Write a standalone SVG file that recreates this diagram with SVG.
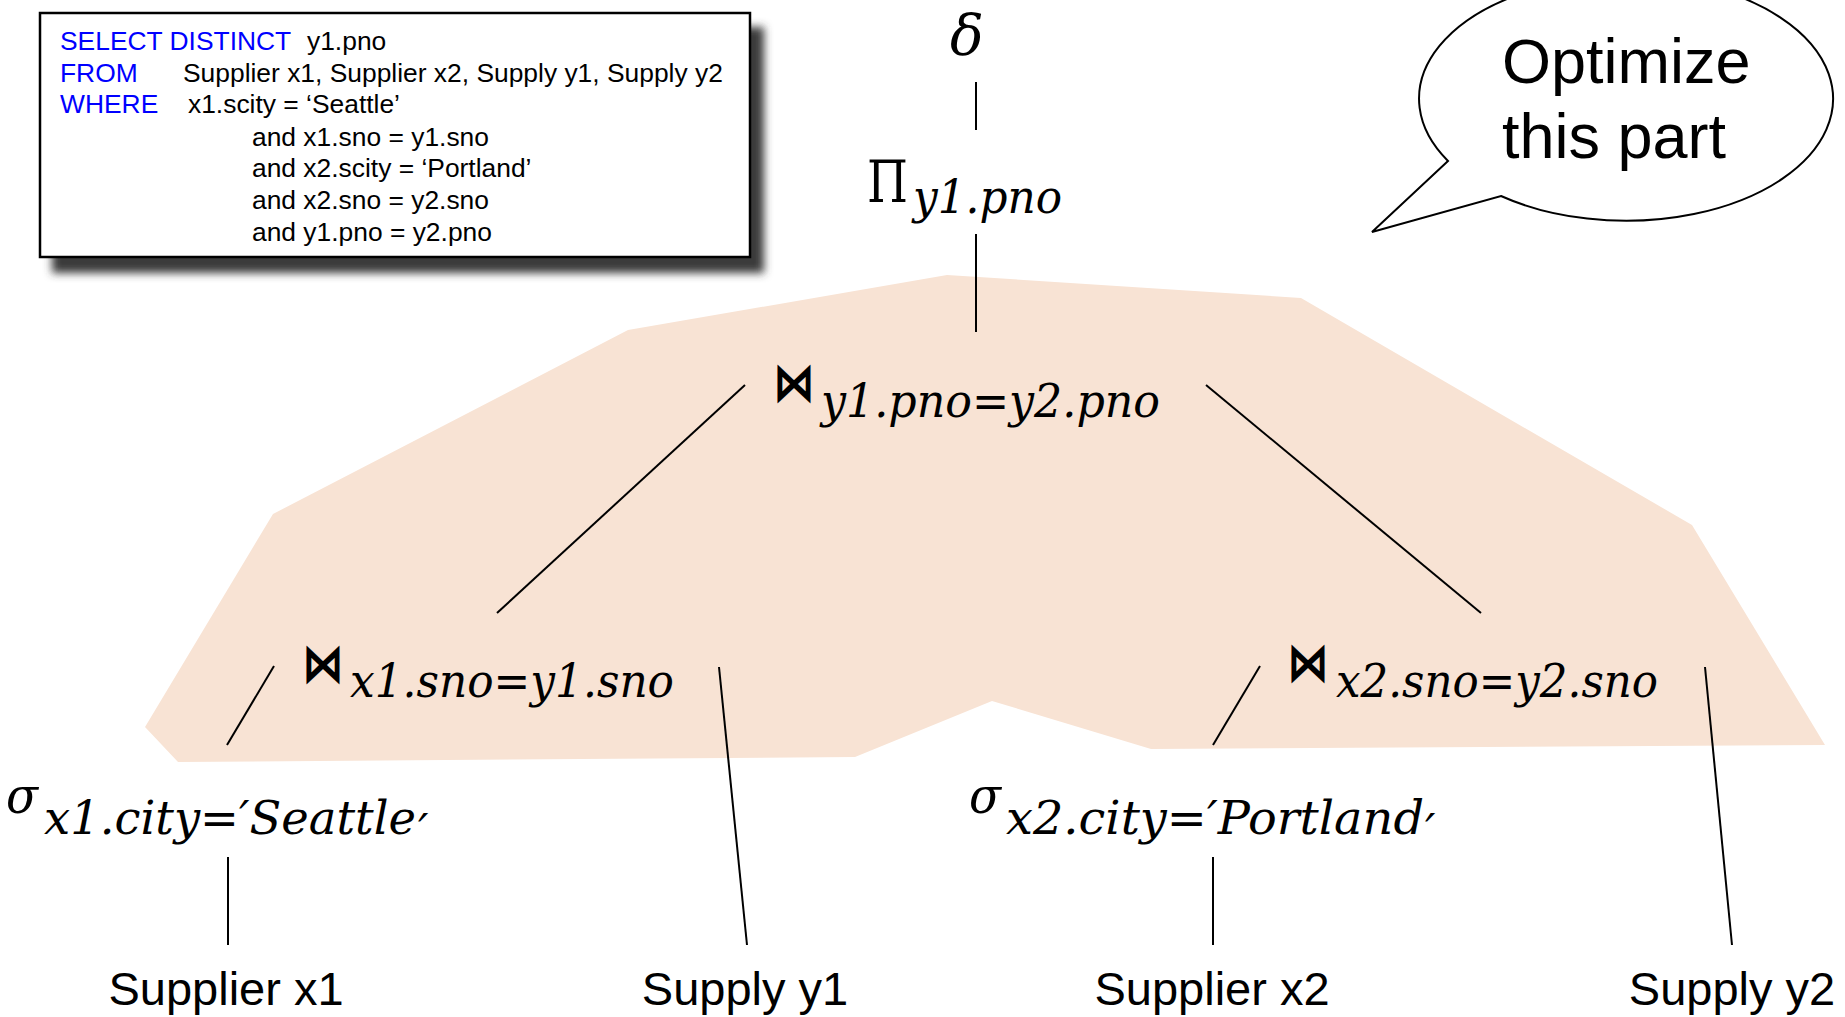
<svg xmlns="http://www.w3.org/2000/svg" width="1845" height="1017" viewBox="0 0 1845 1017">
<defs>
<filter id="shadow" x="-10%" y="-20%" width="130%" height="150%">
<feGaussianBlur stdDeviation="4"/>
</filter>
</defs>
<style>
.sql{font-family:"Liberation Sans",Arial,sans-serif;font-size:26.4px;fill:#000}
.kw{fill:#0000ff}
.math{font-family:"DejaVu Serif",serif;font-style:italic;font-size:46px;fill:#000}
.greek{font-family:"DejaVu Serif",serif;fill:#000}
.bowtie{font-family:"DejaVu Sans",sans-serif;font-weight:bold;font-size:54px;fill:#000}
.rel{font-family:"Liberation Sans",Arial,sans-serif;font-size:47px;fill:#000;text-anchor:middle}
.bubble{font-family:"Liberation Sans",Arial,sans-serif;font-size:63px;fill:#000}
.edge{stroke:#000;stroke-width:2;fill:none}
</style>
<rect width="1845" height="1017" fill="#fff"/>
<polygon id="region" points="947,275 1301,298 1692,525 1825,745 1151,749 992,701 855,757 178,762 145,727 273,514 628,330" fill="#f8e3d4"/>
<g id="sql-box">
<rect x="52" y="27" width="712" height="246" fill="#3a3a3a" filter="url(#shadow)"/>
<rect x="40" y="13" width="710" height="244" fill="#fff" stroke="#000" stroke-width="2.5"/>
<text class="sql kw" x="60" y="50">SELECT DISTINCT</text>
<text class="sql" x="307" y="50">y1.pno</text>
<text class="sql kw" x="60" y="82">FROM</text>
<text class="sql" x="183" y="82">Supplier x1, Supplier x2, Supply y1, Supply y2</text>
<text class="sql kw" x="60" y="113">WHERE</text>
<text class="sql" x="188" y="113">x1.scity = ‘Seattle’</text>
<text class="sql" x="252" y="146">and x1.sno = y1.sno</text>
<text class="sql" x="252" y="177">and x2.scity = ‘Portland’</text>
<text class="sql" x="252" y="209">and x2.sno = y2.sno</text>
<text class="sql" x="252" y="241">and y1.pno = y2.pno</text>
</g>
<g id="callout">
<path d="M1448,161 L1372,232 L1501,196 A207,122 0 1 0 1448,161 Z" fill="#fff" stroke="#000" stroke-width="2"/>
<text class="bubble" x="1502" y="83">Optimize</text>
<text class="bubble" x="1502" y="158">this part</text>
</g>
<g id="connectors">
<line class="edge" x1="976" y1="82" x2="976" y2="130"/>
<line class="edge" x1="976" y1="234" x2="976" y2="332"/>
<line class="edge" x1="745" y1="385" x2="497" y2="613"/>
<line class="edge" x1="1206" y1="385" x2="1481" y2="613"/>
<line class="edge" x1="274" y1="666" x2="227" y2="745"/>
<line class="edge" x1="719" y1="667" x2="747" y2="945"/>
<line class="edge" x1="1260" y1="666" x2="1213" y2="745"/>
<line class="edge" x1="1705" y1="667" x2="1732" y2="945"/>
<line class="edge" x1="228" y1="857" x2="228" y2="945"/>
<line class="edge" x1="1213" y1="857" x2="1213" y2="945"/>
</g>
<g id="delta">
<text class="greek" x="950" y="55" font-size="56" font-style="italic">δ</text>
</g>
<g id="project">
<text class="greek" x="867" y="202" font-size="58" textLength="41" lengthAdjust="spacingAndGlyphs">Π</text>
<text class="math" x="913" y="213" textLength="149" lengthAdjust="spacingAndGlyphs">y1.pno</text>
</g>
<g id="join-top">
<text class="bowtie" x="773" y="401" textLength="42" lengthAdjust="spacingAndGlyphs">⋈</text>
<text class="math" x="821" y="417" textLength="339" lengthAdjust="spacingAndGlyphs">y1.pno=y2.pno</text>
</g>
<g id="join-left">
<text class="bowtie" x="302" y="682" textLength="42" lengthAdjust="spacingAndGlyphs">⋈</text>
<text class="math" x="350" y="697" textLength="324" lengthAdjust="spacingAndGlyphs">x1.sno=y1.sno</text>
</g>
<g id="join-right">
<text class="bowtie" x="1287" y="681" textLength="42" lengthAdjust="spacingAndGlyphs">⋈</text>
<text class="math" x="1336" y="697" textLength="322" lengthAdjust="spacingAndGlyphs">x2.sno=y2.sno</text>
</g>
<g id="select-left">
<text class="greek" x="6" y="813" font-size="50" font-style="italic" textLength="32" lengthAdjust="spacingAndGlyphs">σ</text>
<text class="math" x="44" y="834" textLength="372" lengthAdjust="spacingAndGlyphs">x1.city=′Seattle</text>
<text class="math" x="418" y="847">′</text>
</g>
<g id="select-right">
<text class="greek" x="969" y="813" font-size="50" font-style="italic" textLength="32" lengthAdjust="spacingAndGlyphs">σ</text>
<text class="math" x="1006" y="834" textLength="418" lengthAdjust="spacingAndGlyphs">x2.city=′Portland</text>
<text class="math" x="1425" y="847">′</text>
</g>
<g id="supplier-x1"><text class="rel" x="226" y="1005">Supplier x1</text></g>
<g id="supply-y1"><text class="rel" x="745" y="1005">Supply y1</text></g>
<g id="supplier-x2"><text class="rel" x="1212" y="1005">Supplier x2</text></g>
<g id="supply-y2"><text class="rel" x="1732" y="1005">Supply y2</text></g>
</svg>
